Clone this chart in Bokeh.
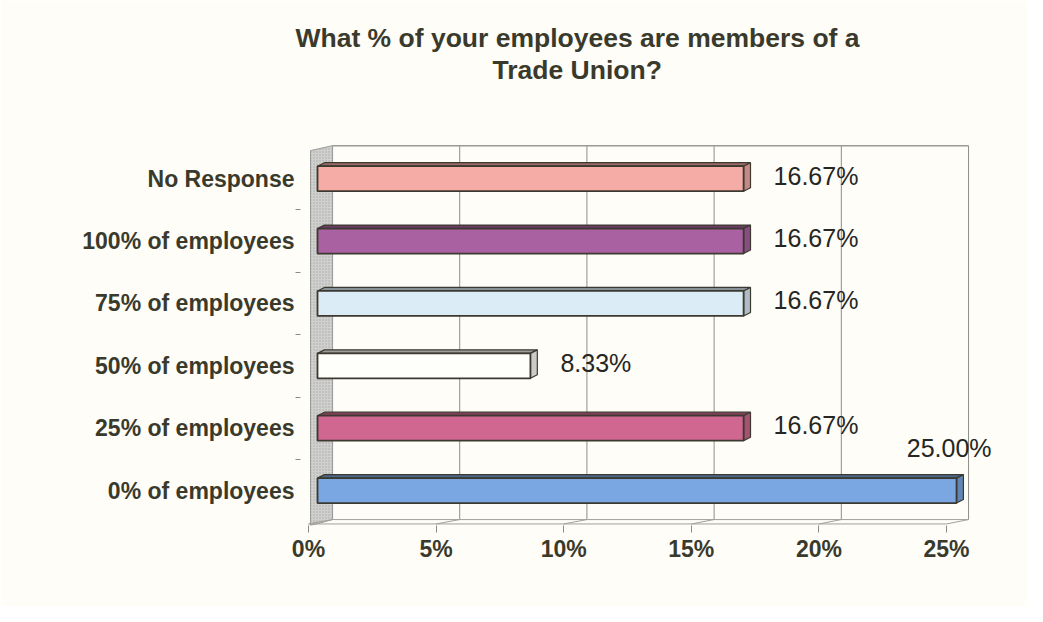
from bokeh.plotting import figure
from bokeh.models import Range1d, FixedTicker, LinearAxis, Title, ColumnDataSource
from bokeh.core.properties import value
from bokeh.embed import file_html
from bokeh.resources import INLINE

# ---------------- data ----------------
categories = ["0% of employees", "25% of employees", "50% of employees",
              "75% of employees", "100% of employees", "No Response"]
percentages = [25.00, 16.67, 8.33, 16.67, 16.67, 16.67]
value_labels = ["25.00%", "16.67%", "8.33%", "16.67%", "16.67%", "16.67%"]
bar_colors = ["#7aa7e2", "#cf6790", "#fefefa", "#dcecf7", "#aa61a2", "#f6aca6"]
x_ticks = [0, 5, 10, 15, 20, 25]
x_tick_labels = ["0%", "5%", "10%", "15%", "20%", "25%"]
title_lines = ["What % of your employees are members of a", "Trade Union?"]

FONT = "Liberation Sans"
INK = "#3a3a2c"
BG = "#fefdf7"
EDGE = "#3c3a30"


def shade(hex_color, f):
    h = hex_color.lstrip("#")
    r, g, b = (int(h[i:i + 2], 16) for i in (0, 2, 4))
    return "#%02x%02x%02x" % (int(r * f), int(g * f), int(b * f))


# 3-D depth of the bars (data units)
DX = 0.27
DY = 0.056
HALF = 0.2


# perspective helpers: front floor edge and back wall positions in bar units
def front(v):
    return (25.52 * v - 9) / 25.56


def back(v):
    return (25.44 * v + 15) / 25.56


p = figure(width=1027, height=606, output_backend="svg", toolbar_location=None,
           x_range=Range1d(-0.665, 26.72), y_range=Range1d(-0.06, 7.01),
           x_axis_type=None, y_axis_type=None,
           min_border_left=300, min_border_right=27,
           min_border_top=84, min_border_bottom=81)
p.background_fill_color = BG
p.border_fill_color = BG
p.outline_line_color = None
p.grid.visible = False

# titles (p.title is the outer line, the added one sits next to the frame)
p.title.text = title_lines[0]
p.title.align = "left"
p.title.offset = -5
p.title.text_font = FONT
p.title.text_font_size = "26.5px"
p.title.text_font_style = "bold"
p.title.text_color = INK
p.title.standoff = 0
p.add_layout(Title(text=title_lines[1], align="left", offset=192,
                   text_font=FONT, text_font_size="26.5px", text_font_style="bold",
                   text_color=INK, standoff=0), "above")

# side wall
p.patch([-0.274, 0.59, 0.59, -0.274], [5.95, 6.03, 0.035, -0.06],
        fill_color="#d0d0ce", line_color="#9a9a98", line_width=1,
        hatch_pattern=".", hatch_color="#9c9c9a", hatch_scale=3, hatch_alpha=0.7)

# back wall gridlines, top edge, floor
gx = [back(v) for v in x_ticks[1:]]
p.segment(x0=gx, y0=[0.035] * len(gx), x1=gx, y1=[6.03] * len(gx),
          line_color="#8e8e8a", line_width=1)
p.segment(x0=[back(0)], y0=[6.03], x1=[back(x_ticks[-1])], y1=[6.03],
          line_color="#9a9a96", line_width=1.5)
p.segment(x0=[back(0)], y0=[0.035], x1=[back(x_ticks[-1])], y1=[0.035],
          line_color="#a0a09c", line_width=1)
p.segment(x0=[front(0)], y0=[-0.035], x1=[front(x_ticks[-1])], y1=[-0.035],
          line_color="#a0a09c", line_width=1)
p.segment(x0=[front(v) for v in x_ticks], y0=[-0.035] * len(x_ticks),
          x1=[back(v) for v in x_ticks], y1=[0.035] * len(x_ticks),
          line_color="#a0a09c", line_width=1)

# bars
ys = [i + 0.5 for i in range(len(categories))]
src = ColumnDataSource(dict(
    left=[0] * len(percentages), right=percentages,
    bottom=[y - HALF for y in ys], top=[y + HALF for y in ys],
    color=bar_colors))

top_xs = [[0, v, v + DX, DX] for v in percentages]
top_ys = [[y + HALF, y + HALF, y + HALF + DY, y + HALF + DY] for y in ys]
p.patches(top_xs, top_ys, fill_color=[shade(c, 0.62) for c in bar_colors],
          line_color=EDGE, line_width=1.2)
cap_xs = [[v, v + DX, v + DX, v] for v in percentages]
cap_ys = [[y - HALF, y - HALF + DY, y + HALF + DY, y + HALF] for y in ys]
p.patches(cap_xs, cap_ys, fill_color=[shade(c, 0.8) for c in bar_colors],
          line_color=EDGE, line_width=1.2)
p.quad(left="left", right="right", bottom="bottom", top="top", source=src,
       fill_color="color", line_color=EDGE, line_width=1.8)

# value labels
vmax = max(percentages)
idx_n = [i for i, v in enumerate(percentages) if v < vmax]
idx_m = [i for i, v in enumerate(percentages) if v >= vmax]
p.text(x=[percentages[i] for i in idx_n], y=[ys[i] for i in idx_n],
       text=[value_labels[i] for i in idx_n], x_offset=30, y_offset=-3,
       text_align="left", text_baseline="middle", text_font=value(FONT),
       text_font_size="25px", text_color="#262622")
p.text(x=[percentages[i] for i in idx_m], y=[ys[i] for i in idx_m],
       text=[value_labels[i] for i in idx_m], x_offset=35, y_offset=-43,
       text_align="right", text_baseline="middle", text_font=value(FONT),
       text_font_size="25px", text_color="#262622")

# y axis (categories)
yaxis = LinearAxis(ticker=FixedTicker(ticks=ys, minor_ticks=[1, 2, 3, 4, 5]),
                   major_label_overrides={y: c for y, c in zip(ys, categories)})
yaxis.axis_line_color = None
yaxis.major_tick_line_color = None
yaxis.major_tick_out = 0
yaxis.major_tick_in = 0
yaxis.minor_tick_line_color = "#8a8a86"
yaxis.minor_tick_out = 5
yaxis.minor_tick_in = 0
yaxis.major_label_standoff = 1
yaxis.major_label_text_font = FONT
yaxis.major_label_text_font_size = "23px"
yaxis.major_label_text_font_style = "bold"
yaxis.major_label_text_color = INK
p.add_layout(yaxis, "left")

# x axis on the front floor edge
p.extra_x_ranges = {"front": Range1d(-0.313, 27.116)}
xaxis = LinearAxis(x_range_name="front", ticker=FixedTicker(ticks=x_ticks),
                   major_label_overrides={t: l for t, l in zip(x_ticks, x_tick_labels)})
xaxis.axis_line_color = None
xaxis.major_tick_line_color = "#8a8a86"
xaxis.major_tick_out = 7
xaxis.major_tick_in = 0
xaxis.minor_tick_line_color = None
xaxis.major_label_standoff = 3
xaxis.major_label_text_font = FONT
xaxis.major_label_text_font_size = "23px"
xaxis.major_label_text_font_style = "bold"
xaxis.major_label_text_color = INK
p.add_layout(xaxis, "below")

open("out.html", "w").write(file_html(p, INLINE))
